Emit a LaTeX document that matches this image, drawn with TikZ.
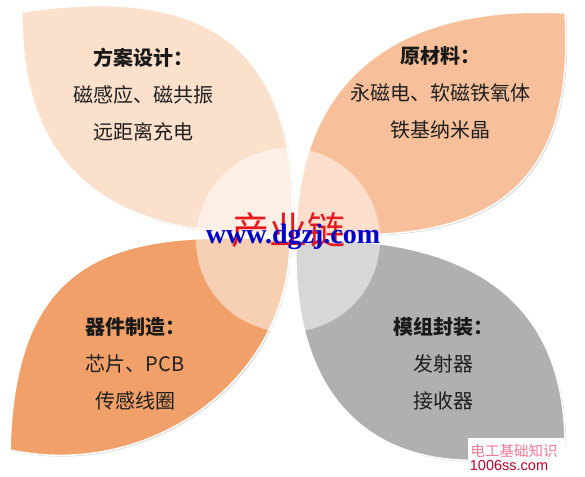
\documentclass[tikz,border=0pt]{standalone}
\usepackage{fontspec}
\setmainfont{Liberation Sans}
\newfontfamily\cjk{Noto Sans CJK SC}
\newfontfamily\urlfont{Liberation Serif}
\usepackage{tikz}
\usetikzlibrary{calc}
\definecolor{petalTL}{RGB}{251,224,204}
\definecolor{petalTR}{RGB}{248,192,154}
\definecolor{petalBL}{RGB}{240,160,104}
\definecolor{petalBR}{RGB}{176,176,176}
\definecolor{chainRed}{RGB}{230,24,30}
\definecolor{urlBlue}{RGB}{0,0,200}
\definecolor{markPink}{RGB}{240,120,150}
\definecolor{markRed}{RGB}{190,0,40}

\begin{document}
\begin{tikzpicture}[x=1pt,y=-1pt,
petal/.style={fill=#1, draw=white, line width=1.5pt,
  preaction={fill=black!18, transform canvas={shift={(1.2pt,-1.2pt)}}}},
titlenode/.style={font=\cjk\bfseries\fontsize{20}{24}\selectfont, text=black!90},
itemnode/.style={font=\cjk\fontsize{20}{24}\selectfont, text=black!88},
node distance=37pt]
\useasboundingbox (0,0) rectangle (585,476);

%Petals
\coordinate (tlCorner) at (22,12);
\coordinate (trCorner) at (565,13);
\coordinate (blCorner) at (10,450);
\coordinate (brCorner) at (565,445);
\coordinate (hubTL) at (292,233);
\coordinate (hubTR) at (296,233);
\coordinate (hubBL) at (290,240);
\coordinate (hubBR) at (296,240);

\path[petal=petalTL] (tlCorner) .. controls (200,-15) and (300,40) .. (hubTL)
  .. controls (150,240) and (20,200) .. (tlCorner) -- cycle;
\path[petal=petalTR] (trCorner) .. controls (420,5) and (300,60) .. (hubTR)
  .. controls (420,240) and (580,240) .. (trCorner) -- cycle;
\path[petal=petalBL] (blCorner) .. controls (15,250) and (120,230) .. (hubBL)
  .. controls (290,380) and (150,480) .. (blCorner) -- cycle;
\path[petal=petalBR] (hubBR) .. controls (470,235) and (565,300) .. (brCorner)
  .. controls (420,490) and (290,440) .. (hubBR) -- cycle;

%Hub
\node[circle, minimum size=184pt, fill=white, fill opacity=0.5] (hub) at (288,240) {};
\node[font=\cjk\fontsize{38}{42}\selectfont, text=chainRed] (chain) at (288,230) {产业链};
\node[font=\urlfont\bfseries\fontsize{28}{30}\selectfont, text=urlBlue] (site) at (293,237) {www.dgzj.com};

%Nodes
\node[titlenode] (planTitle) at (143,58) {方案设计：};
\node[itemnode, below of = planTitle] (planA) {磁感应、磁共振};
\node[itemnode, below of = planA] (planB) {远距离充电};

\node[titlenode] (rawTitle) at (440,56) {原材料：};
\node[itemnode, below of = rawTitle] (rawA) {永磁电、软磁铁氧体};
\node[itemnode, below of = rawA] (rawB) {铁基纳米晶};

\node[titlenode] (partTitle) at (135,327) {器件制造：};
\node[itemnode, below of = partTitle] (partA) {芯片、PCB};
\node[itemnode, below of = partA] (partB) {传感线圈};

\node[titlenode] (packTitle) at (443,327) {模组封装：};
\node[itemnode, below of = packTitle] (packA) {发射器};
\node[itemnode, below of = packA] (packB) {接收器};

%Watermark
\node[fill=white, minimum width=97pt, minimum height=39pt, inner sep=0pt] (markBox) at (516,457) {};
\node[font=\cjk\fontsize{14.5}{16}\selectfont, text=markPink] (markCn) at (514,451) {电工基础知识};
\node[font=\fontsize{14.5}{16}\selectfont, text=markRed] (markUrl) at (509,466) {1006ss.com};
\end{tikzpicture}
\end{document}
